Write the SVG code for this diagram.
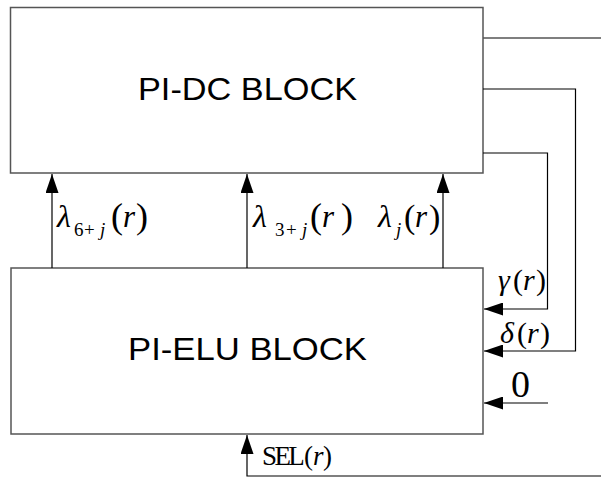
<svg xmlns="http://www.w3.org/2000/svg" width="601" height="479" viewBox="0 0 601 479">
<style>
.box{fill:#fff;stroke:#555;stroke-width:1.5}
.ln{fill:none;stroke:#000;stroke-width:1.2}
.lg{fill:none;stroke:#555;stroke-width:1.5}
.blk{font-family:"Liberation Sans",Arial,sans-serif;font-size:32px;fill:#000}
.m{font-family:"Liberation Serif","Times New Roman","DejaVu Serif",serif;fill:#000}
.i{font-family:"Liberation Serif","Times New Roman","DejaVu Serif",serif;font-style:italic}
</style>
<defs>
<marker id="ah" markerUnits="userSpaceOnUse" markerWidth="19" markerHeight="13" refX="19" refY="6.5" orient="auto">
<path d="M0,0 L19,6.5 L0,13 z" fill="#000"/>
</marker>
</defs>
<g id="pi-dc">
<rect class="box" x="10.5" y="7.5" width="472.5" height="165.5"/>
<text class="blk" x="138" y="100" textLength="219" lengthAdjust="spacingAndGlyphs">PI-DC BLOCK</text>
</g>
<g id="pi-elu">
<rect class="box" x="11" y="268" width="472" height="166"/>
<text class="blk" x="128" y="360" textLength="239" lengthAdjust="spacingAndGlyphs">PI-ELU BLOCK</text>
</g>
<g id="connectors">
<line class="ln" x1="52" y1="268" x2="52" y2="174" marker-end="url(#ah)"/>
<line class="ln" x1="247" y1="268" x2="247" y2="174" marker-end="url(#ah)"/>
<line class="ln" x1="443" y1="268" x2="443" y2="174" marker-end="url(#ah)"/>
<line class="lg" x1="483" y1="38" x2="601" y2="38"/>
<polyline class="ln" points="483,89 575.5,89 575.5,351 484,351" marker-end="url(#ah)"/>
<polyline class="ln" points="483,153 547.5,153 547.5,309 484,309" marker-end="url(#ah)"/>
<line class="ln" x1="548" y1="403" x2="484" y2="403" marker-end="url(#ah)"/>
<polyline class="ln" points="601,476 247,476 247,435" marker-end="url(#ah)"/>
</g>
<g id="labels">
<text class="m" y="227" font-size="32"><tspan class="i" x="57">λ</tspan><tspan x="74" y="236" font-size="19">6</tspan><tspan x="84" y="236" font-size="19">+</tspan><tspan class="i" x="100" y="236" font-size="19">j</tspan><tspan x="111" y="228" font-size="36">(</tspan><tspan class="i" x="123" y="227" font-size="31">r</tspan><tspan x="136" y="228" font-size="36">)</tspan></text>
<text class="m" y="227" font-size="32"><tspan class="i" x="253">λ</tspan><tspan x="275" y="236" font-size="19">3</tspan><tspan x="286" y="236" font-size="19">+</tspan><tspan class="i" x="302" y="236" font-size="19">j</tspan><tspan x="310" y="228" font-size="36">(</tspan><tspan class="i" x="322" y="227" font-size="31">r</tspan><tspan x="341" y="228" font-size="36">)</tspan></text>
<text class="m" y="227" font-size="32"><tspan class="i" x="378">λ</tspan><tspan class="i" x="396" y="236" font-size="19">j</tspan><tspan x="404" y="228" font-size="34">(</tspan><tspan class="i" x="415" y="227" font-size="31">r</tspan><tspan x="429" y="228" font-size="34">)</tspan></text>
<text class="m" y="290" font-size="30"><tspan class="i" x="498">γ</tspan><tspan x="513">(</tspan><tspan class="i" x="523">r</tspan><tspan x="536">)</tspan></text>
<text class="m" y="343" font-size="30"><tspan class="i" x="500">δ</tspan><tspan x="517">(</tspan><tspan class="i" x="527">r</tspan><tspan x="540">)</tspan></text>
<text class="m" x="511" y="397" font-size="38">0</text>
<text class="m" y="465" font-size="27"><tspan x="262" letter-spacing="-2.6">SEL</tspan><tspan x="304">(</tspan><tspan class="i" x="313">r</tspan><tspan x="323">)</tspan></text>
</g>
</svg>
